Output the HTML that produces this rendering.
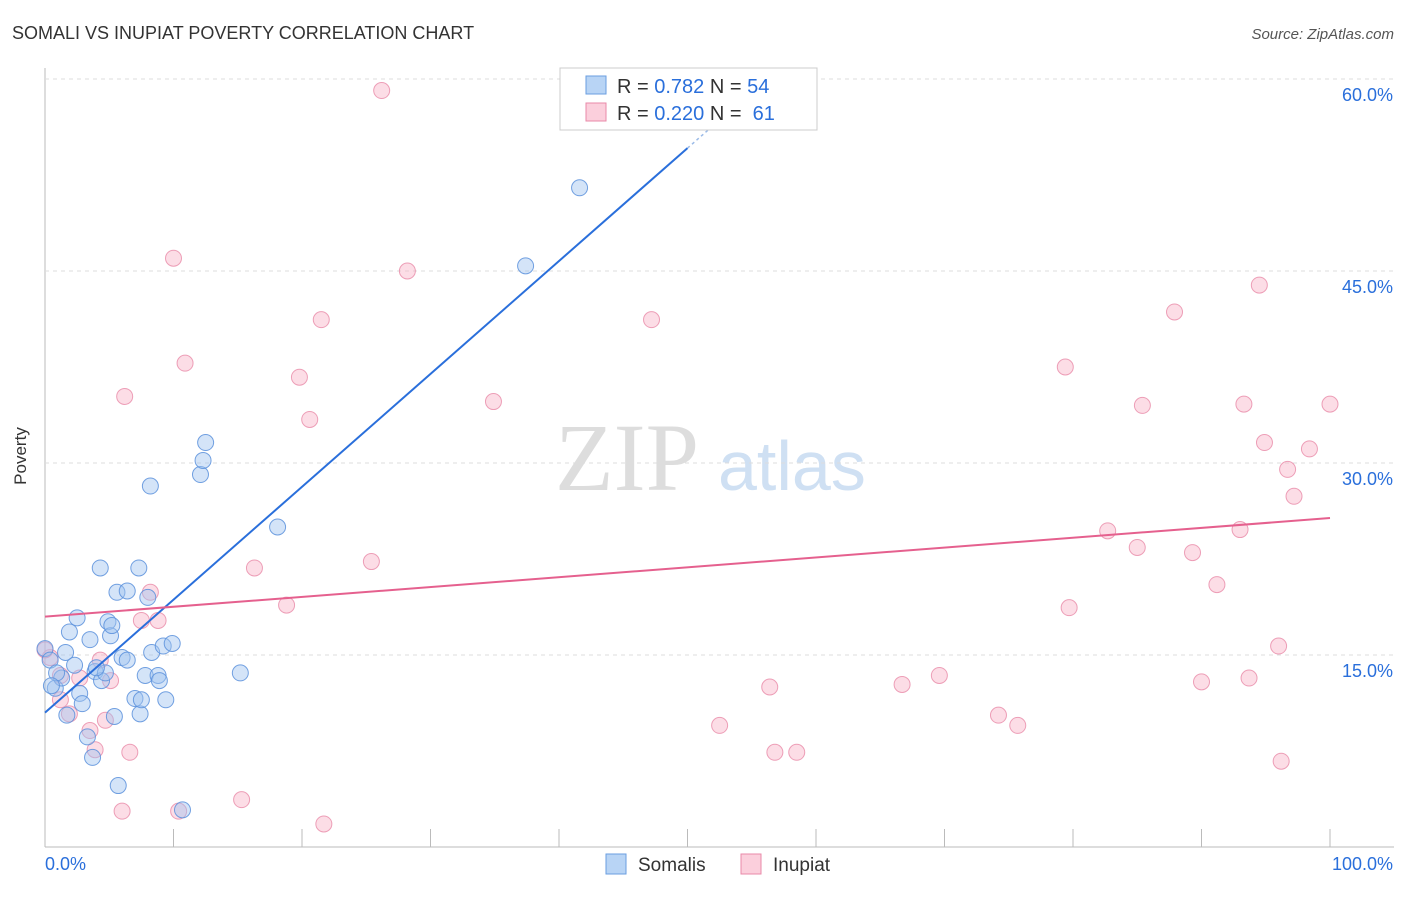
<!DOCTYPE html>
<html><head><meta charset="utf-8"><style>
body{margin:0;background:#fff;font-family:"Liberation Sans",sans-serif}
</style></head><body>
<svg id="c" width="1406" height="892" xmlns="http://www.w3.org/2000/svg">
<text x="12" y="39" font-size="18" fill="#333">SOMALI VS INUPIAT POVERTY CORRELATION CHART</text>
<text x="1394" y="39" font-size="15" fill="#555" font-style="italic" text-anchor="end">Source: ZipAtlas.com</text>
<text x="26" y="456" font-size="17" fill="#333" transform="rotate(-90 26 456)" text-anchor="middle">Poverty</text>
<text x="555" y="490" font-size="96" fill="#ddd" font-family="Liberation Serif,serif">ZIP</text>
<text x="718" y="490" font-size="70" fill="#cfe0f3">atlas</text>
<g id="grid"></g><g id="pts"></g><g id="lines"></g>
<g>
<rect x="560" y="68" width="257" height="62" fill="#fff" stroke="#ccc"/>
<rect x="586" y="76" width="20" height="18" fill="#b8d4f5" stroke="#6a9ee0"/>
<text x="617" y="93" font-size="20" fill="#333">R = <tspan fill="#2a6fdb">0.782</tspan>   N = <tspan fill="#2a6fdb">54</tspan></text>
<rect x="586" y="103" width="20" height="18" fill="#fbcfdc" stroke="#e88aa8"/>
<text x="617" y="120" font-size="20" fill="#333">R = <tspan fill="#2a6fdb">0.220</tspan>   N = <tspan fill="#2a6fdb">&#160;61</tspan></text>
</g>
<g>
<rect x="606" y="854" width="20" height="20" fill="#b8d4f5" stroke="#6a9ee0"/>
<text x="638" y="871" font-size="19" fill="#333">Somalis</text>
<rect x="741" y="854" width="20" height="20" fill="#fbcfdc" stroke="#e88aa8"/>
<text x="773" y="871" font-size="19" fill="#333">Inupiat</text>
</g>
</svg>
<script>
const xTicks=[0,10,20,30,40,50,60,70,80,90,100];
const yTicks=[15,30,45,60];
const somaliX=[0,0.4,0.8,1.3,1.6,1.9,2.3,2.5,2.7,2.9,3.3,3.5,3.7,3.9,4.3,4.4,4.7,4.9,5.1,5.2,5.4,5.6,5.7,6.0,6.4,7.0,7.3,7.4,7.5,7.8,8.0,8.2,8.3,8.8,8.9,9.2,9.4,9.9,10.7,12.1,12.3,12.5,15.2,18.1,37.4,41.6,0.9,1.7,0.5,4.0,6.4];
const somaliY=[15.5,14.6,12.4,13.2,15.2,16.8,14.2,17.9,12.0,11.2,8.6,16.2,7.0,13.7,21.8,13.0,13.6,17.6,16.5,17.3,10.2,19.9,4.8,14.8,20.0,11.6,21.8,10.4,11.5,13.4,19.5,28.2,15.2,13.4,13.0,15.7,11.5,15.9,2.9,29.1,30.2,31.6,13.6,25.0,45.4,51.5,13.6,10.3,12.6,14.0,14.6];
const inupiatX=[26.2,10.0,28.2,21.5,47.2,10.9,19.8,6.2,34.9,20.6,16.3,25.4,18.8,8.2,8.8,7.5,4.3,5.1,2.7,1.2,0.4,1.9,3.5,3.9,4.7,6.6,6.0,10.4,15.3,21.7,52.5,56.4,56.8,58.5,66.7,69.6,74.2,75.7,79.4,79.7,82.7,85.0,85.4,87.9,89.3,91.2,90.0,93.0,93.3,94.5,94.9,96.7,97.2,98.4,100,96.0,93.7,96.2,0,1.2];
const inupiatY=[59.1,46.0,45.0,41.2,41.2,37.8,36.7,35.2,34.8,33.4,21.8,22.3,18.9,19.9,17.7,17.7,14.6,13.0,13.2,13.4,14.8,10.4,9.1,7.6,9.9,7.4,2.8,2.8,3.7,1.8,9.5,12.5,7.4,7.4,12.7,13.4,10.3,9.5,37.5,18.7,24.7,23.4,34.5,41.8,23.0,20.5,12.9,24.8,34.6,43.9,31.6,29.5,27.4,31.1,34.6,15.7,13.2,6.7,15.4,11.5];
const somaliFit=[10.5,0.882];
const inupiatFit=[18.0,0.077];
const NS="http://www.w3.org/2000/svg";
const X=v=>45+v*12.85, Y=v=>847-v*12.8;
function mk(p,t,a){const e=document.createElementNS(NS,t);for(const k in a)e.setAttribute(k,a[k]);document.getElementById(p).appendChild(e);return e;}
let e=mk('grid','line',{x1:45,x2:45,y1:68,y2:847,stroke:'#bbb'});

e=mk('grid','line',{x1:45,x2:1394,y1:847,y2:847,stroke:'#bbb'});

e=mk('grid','line',{x1:45,x2:1394,y1:79,y2:79,stroke:'#ddd','stroke-dasharray':'4 4'});

yTicks.forEach(t=>{
e=mk('grid','line',{x1:45,x2:1394,y1:Y(t),y2:Y(t),stroke:'#ddd','stroke-dasharray':'4 4'});

e=mk('grid','text',{x:1393,y:Y(t)+22,'font-size':18,fill:'#2a6fdb','text-anchor':'end'});e.textContent=t.toFixed(1)+'%';

});
xTicks.forEach(t=>{
e=mk('grid','line',{x1:X(t),x2:X(t),y1:829,y2:847,stroke:'#bbb'});

});
e=mk('grid','text',{x:45,y:870,'font-size':18,fill:'#2a6fdb'});e.textContent='0.0%';

e=mk('grid','text',{x:1393,y:870,'font-size':18,fill:'#2a6fdb','text-anchor':'end'});e.textContent='100.0%';

inupiatX.forEach((x,i)=>{
e=mk('pts','circle',{cx:X(x),cy:Y(inupiatY[i]),r:8,fill:'rgba(248,180,200,0.45)',stroke:'rgba(232,138,168,0.8)'});

});
somaliX.forEach((x,i)=>{
e=mk('pts','circle',{cx:X(x),cy:Y(somaliY[i]),r:8,fill:'rgba(160,196,240,0.45)',stroke:'rgba(90,145,220,0.85)'});

});
e=mk('lines','line',{x1:X(0),y1:Y(somaliFit[0]),x2:X(50),y2:Y(somaliFit[0]+50*somaliFit[1]),stroke:'#2a6fdb','stroke-width':2});

e=mk('lines','line',{x1:X(50),y1:Y(somaliFit[0]+50*somaliFit[1]),x2:X(53),y2:Y(somaliFit[0]+53*somaliFit[1]),stroke:'#9bbbe8','stroke-width':1.5,'stroke-dasharray':'3 3'});

e=mk('lines','line',{x1:X(0),y1:Y(inupiatFit[0]),x2:X(100),y2:Y(inupiatFit[0]+100*inupiatFit[1]),stroke:'#e5608e','stroke-width':2});

</script>
</body></html>
